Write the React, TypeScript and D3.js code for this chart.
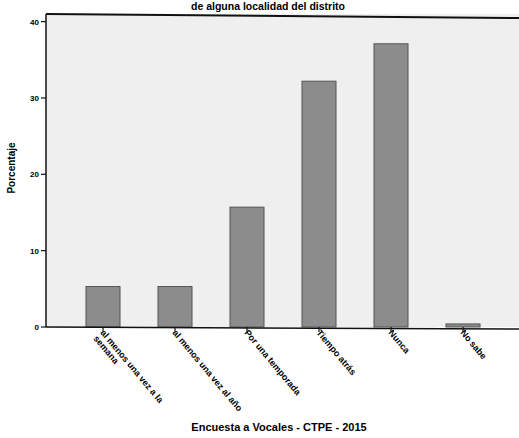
import React from "react";
import * as d3 from "d3";

const categories = [
  ["al menos una vez a la", "semana"],
  ["al menos una vez al año"],
  ["Por una temporada"],
  ["Tiempo atrás"],
  ["Nunca"],
  ["No sabe"],
];
const values = [5.3, 5.3, 15.7, 32.2, 37.1, 0.4];
const yTicks = [0, 10, 20, 30, 40];

export default function App() {
  const W = 519, H = 438;
  const x0 = 46, x1 = 519, yTop = 14, yBot = 327;
  const y = d3.scaleLinear().domain([0, 41]).range([yBot, yTop]);
  const x = d3.scalePoint<number>().domain(d3.range(values.length)).range([67, 499]).padding(0.5);
  const bw = 34;
  const font = "Arial, 'Liberation Sans', sans-serif";
  return (
    <svg width={W} height={H} style={{ position: "absolute", left: 0, top: 0 }}>
      <rect x={0} y={0} width={W} height={H} fill="#fff" />
      <text x={268} y={10} textAnchor="middle" fontFamily={font} fontWeight="bold" fontSize={10.5}>
        de alguna localidad del distrito
      </text>
      <rect x={x0} y={yTop} width={x1 - x0} height={yBot - yTop} fill="#efefef" />
      <line x1={x0} x2={x1} y1={yTop} y2={yTop + 4} stroke="#111" strokeWidth={2} />
      {values.map((v, i) => (
        <rect key={i} x={(x(i) as number) - bw / 2} y={y(v)} width={bw} height={yBot - y(v)}
          fill="#8c8c8c" stroke="#555" strokeWidth={1} />
      ))}
      <line x1={x0} x2={x1} y1={yBot} y2={yBot + 2} stroke="#111" strokeWidth={1.5} />
      <line x1={x0} x2={x0} y1={yTop} y2={yBot} stroke="#111" strokeWidth={1.5} />
      {yTicks.map((t) => (
        <g key={t}>
          <line x1={x0 - 5} x2={x0} y1={y(t)} y2={y(t)} stroke="#111" strokeWidth={1.2} />
          <text x={x0 - 7} y={y(t) + 3} textAnchor="end" fontFamily={font} fontWeight="bold" fontSize={8}>{t}</text>
        </g>
      ))}
      {categories.map((lines, i) => {
        const cx = x(i) as number;
        return (
          <g key={i}>
            <line x1={cx} x2={cx} y1={yBot} y2={yBot + 5} stroke="#111" strokeWidth={1.2} />
            <text transform={`translate(${cx - 3},${yBot + 6}) rotate(50)`} fontFamily={font}
              fontWeight="900" fontSize={9}>
              {lines.map((l, j) => (
                <tspan key={j} x={j * 0} dy={j === 0 ? 0 : 9}>{l}</tspan>
              ))}
            </text>
          </g>
        );
      })}
      <text transform={`translate(15,168) rotate(-90)`} textAnchor="middle"
        fontFamily={font} fontWeight="bold" fontSize={10}>Porcentaje</text>
      <text x={279} y={431} textAnchor="middle" fontFamily={font} fontWeight="bold" fontSize={11}>
        Encuesta a Vocales - CTPE - 2015
      </text>
    </svg>
  );
}
